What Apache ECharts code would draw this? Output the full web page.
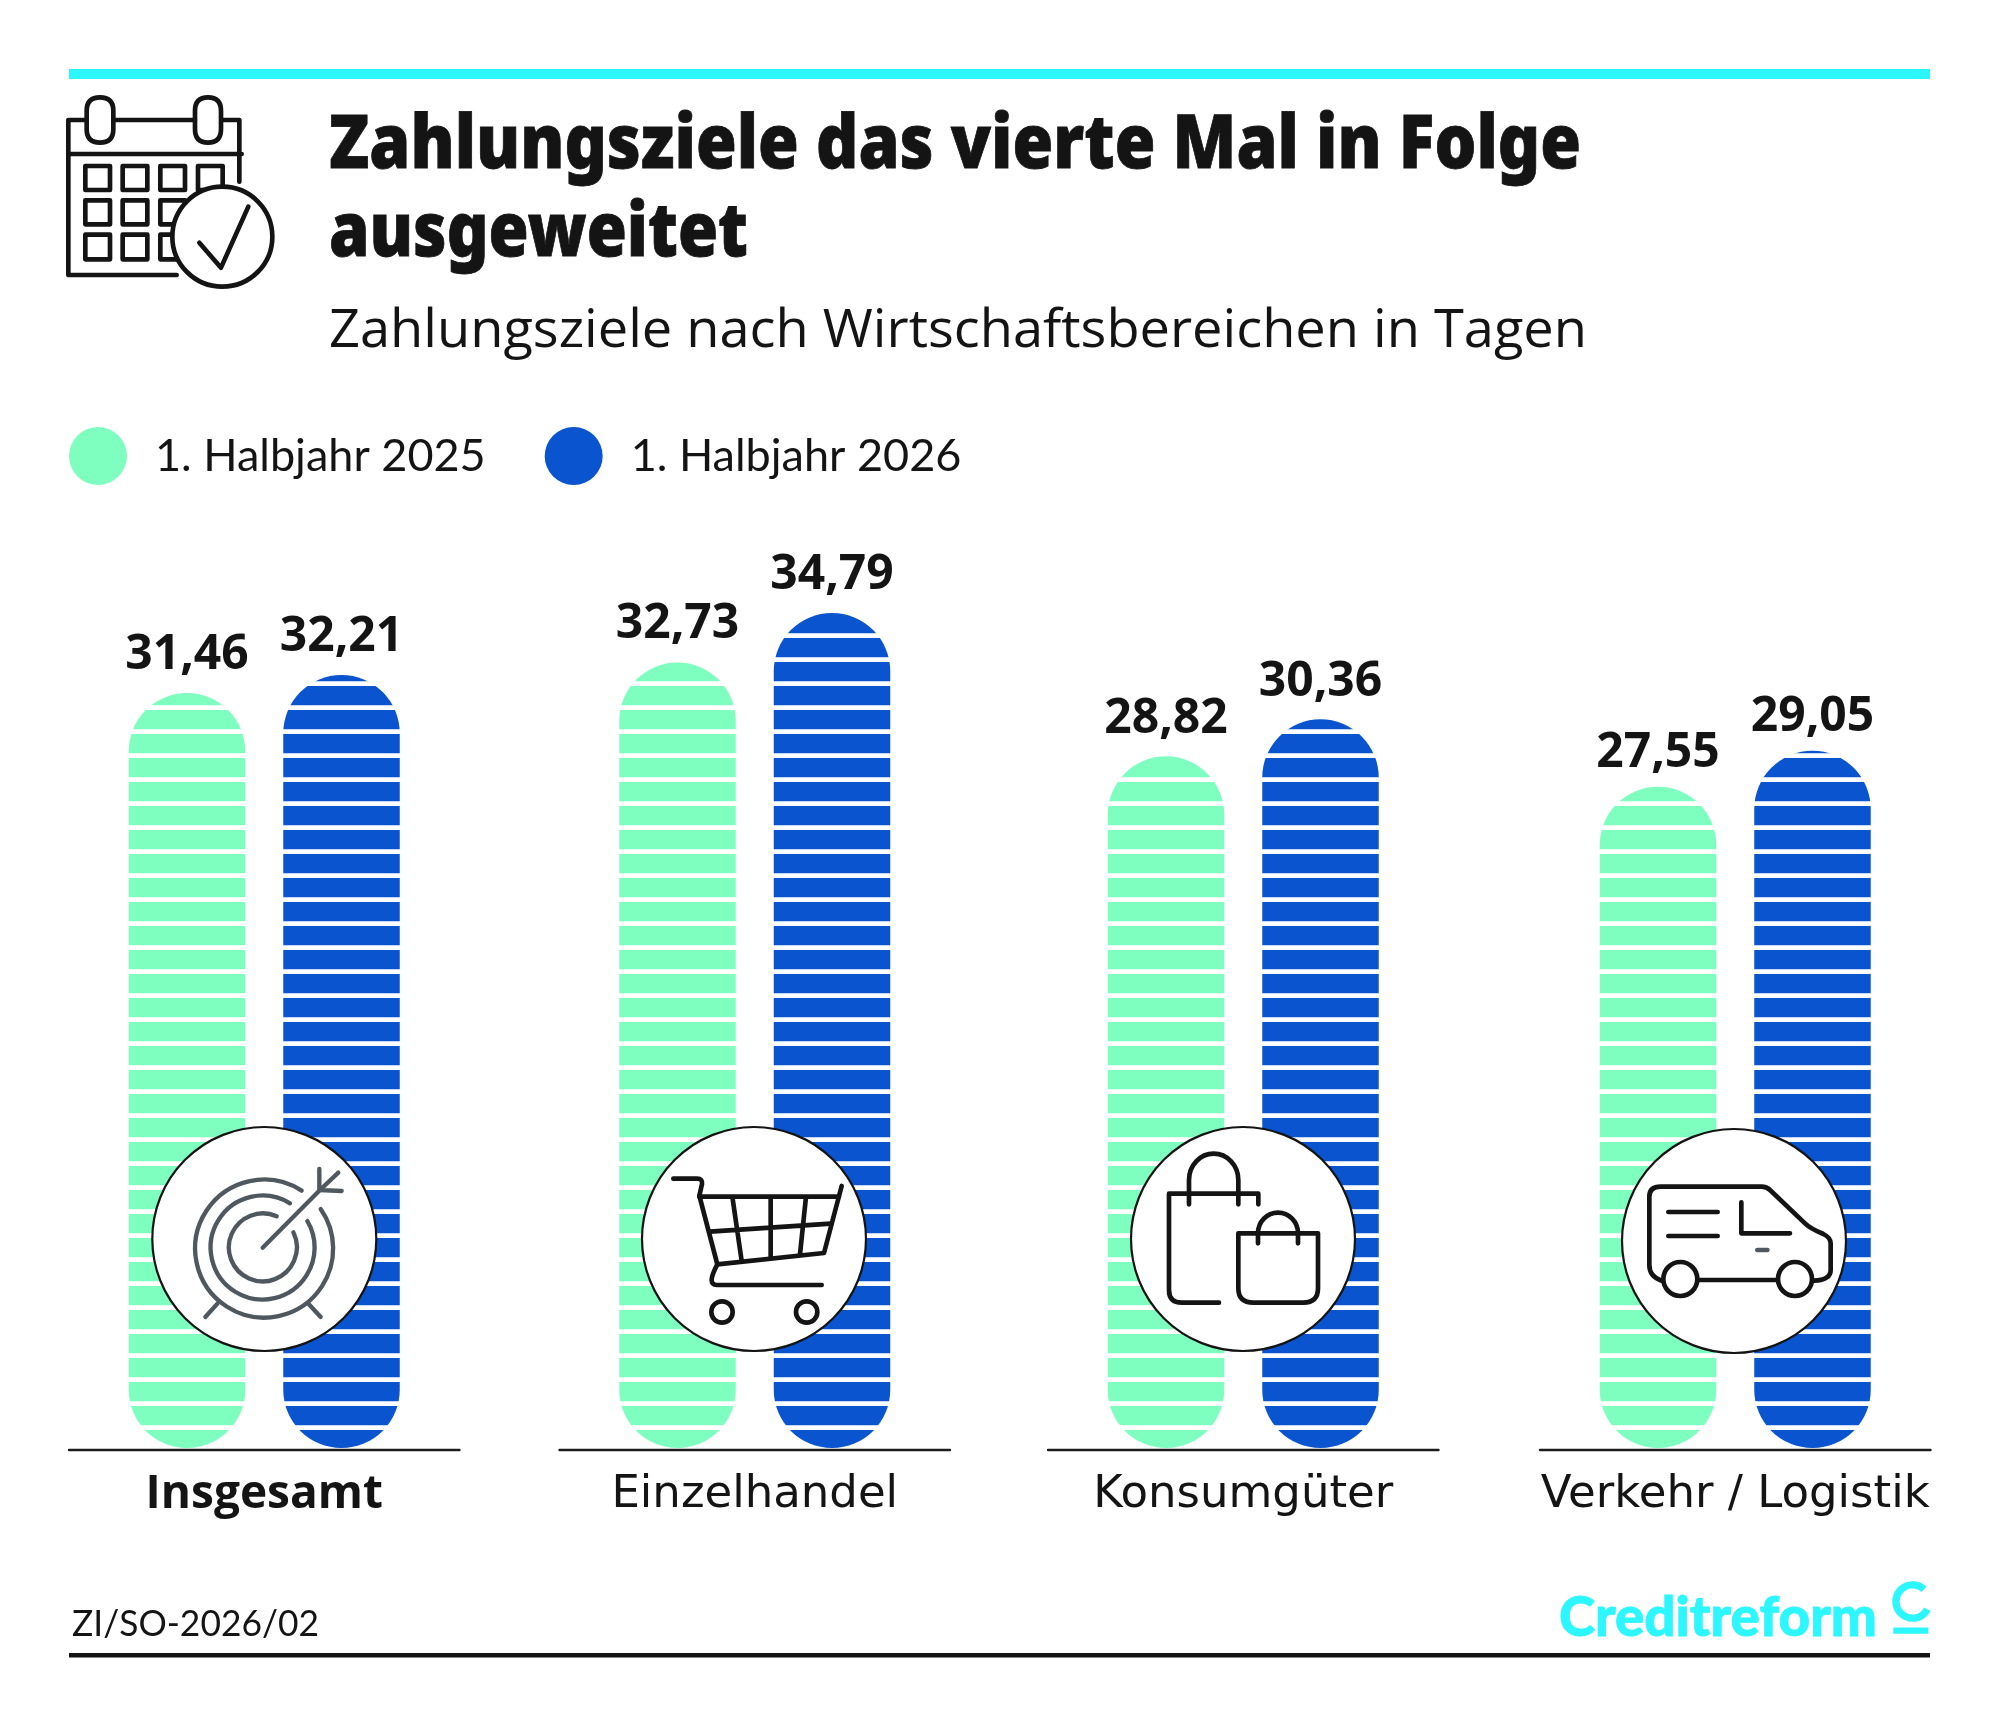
<!DOCTYPE html>
<html lang="de">
<head>
<meta charset="utf-8">
<title>Zahlungsziele</title>
<style>html,body{margin:0;padding:0;background:#fff}#c{width:1999px;height:1723px}</style>
<script src="https://cdn.jsdelivr.net/npm/echarts@6/dist/echarts.min.js"></script>
</head>
<body>
<div id="c"></div>
<script>
const categories = ['Insgesamt', 'Einzelhandel', 'Konsumgüter', 'Verkehr / Logistik'];
const values2025 = [31.46, 32.73, 28.82, 27.55];
const values2026 = [32.21, 34.79, 30.36, 29.05];
const seriesNames = ['1. Halbjahr 2025', '1. Halbjahr 2026'];
const titleLines = ['Zahlungsziele das vierte Mal in Folge', 'ausgeweitet'];
const subtitle = 'Zahlungsziele nach Wirtschaftsbereichen in Tagen';
const footnote = 'ZI/SO-2026/02';
const brand = 'Creditreform';

const MINT = '#7fffbf', BLUE = '#0a54cf', CYAN = '#2cf6ff', INK = '#141414', GREY = '#50585f';
const panelLeft = [69, 559.5, 1048, 1540];
const labelDistance = [14, 14, 13, 9];
const PANEL_W = 390.5, BAR_W = 116.5, BAR_GAP = 38;

const chart = echarts.init(document.getElementById('c'), null, {width: 1999, height: 1723, renderer: 'canvas'});
const ctx = document.createElement('canvas').getContext('2d');

function text(str, x, base, family, weight, size, targetW, color, strokeW) {
  ctx.font = weight + ' ' + size + 'px "' + family + '"';
  const w = ctx.measureText(str).width;
  const sx = targetW ? targetW / w : 1;
  const style = {text: str, fontFamily: family, fontWeight: weight, fontSize: size, fill: color || INK,
      align: 'left', verticalAlign: 'middle'};
  if (strokeW) { style.stroke = color || INK; style.lineWidth = strokeW; }
  return {type: 'text', x: x, y: base - size * 0.28, scaleX: sx, z: 50, silent: true, style: style};
}
let shapeCount = 0;
function icon(x, y, paths) {
  return {type: 'group', x: x, y: y, scaleX: 1 / 3, scaleY: 1 / 3, children: paths.map(p => {
    if (p.c) return {type: 'circle', z: p.z || 60, silent: true, shape: {cx: p.c[0], cy: p.c[1], r: p.c[2]},
      style: {fill: p.fill || '#fff', stroke: p.s || INK, lineWidth: p.w || 14}};
    const shapeName = 'iconPath' + (shapeCount++);
    echarts.graphic.registerShape(shapeName, echarts.graphic.extendPath(p.d));
    return {type: shapeName, z: p.z || 60, silent: true,
      style: {fill: 'none', stroke: p.s || INK, lineWidth: p.w || 14, lineCap: p.cap || 'round', lineJoin: 'round'}};
  })};
}
function disc(cx, cy) {
  return {type: 'circle', z: 40, silent: true, shape: {cx: cx, cy: cy, r: 112}, style: {fill: '#fff', stroke: INK, lineWidth: 2.2}};
}
function rule(x, y, w, h, color) {
  return {type: 'rect', z: 5, silent: true, shape: {x: x, y: y, width: w, height: h}, style: {fill: color}};
}

const targetIcon = icon(150, 1125, [
  {d: 'M455 197 A207 207 0 1 0 512 252', s: GREY, w: 13},
  {d: 'M420 235 A156 156 0 1 0 472 288', s: GREY, w: 13},
  {d: 'M380 274 A102 102 0 1 0 430 322', s: GREY, w: 13},
  {d: 'M338 368 L510 195', s: GREY, w: 13},
  {d: 'M508 132 L508 195 L575 198 M565 143 L510 195', s: GREY, w: 13},
  {d: 'M203 535 L166 576 M474 535 L512 576', s: GREY, w: 13}
]);
const cartIcon = icon(640, 1125, [
  {d: 'M100 161 L172 161 Q188 161 186 177 L178 212 L232 418 L552 384 L605 183'},
  {d: 'M178 215 L597 215 M277 215 L305 408 M392 215 L392 398 M498 215 L480 388 M210 320 L572 296'},
  {d: 'M232 418 Q215 450 215 465 Q215 480 230 480 L545 480'},
  {c: [246, 561, 32]}, {c: [500, 561, 32]}
]);
const bagsIcon = icon(1130, 1125, [
  {d: 'M267 533 L155 533 Q117 533 117 495 L117 206 L385 206 L385 238'},
  {d: 'M177 238 L177 165 A74 79 0 0 1 325 165 L325 238'},
  {d: 'M325 325 L564 325 L564 490 Q564 533 520 533 L370 533 Q325 533 325 490 Z'},
  {d: 'M384 355 L384 325 A60 62 0 0 1 504 325 L504 355'}
]);
const vanIcon = icon(1620, 1125, [
  {d: 'M125 467 Q88 455 88 420 L88 215 Q88 185 122 185 L425 185 Q440 185 450 195 L555 295 Q570 310 610 327 Q632 338 632 355 L632 435 Q632 465 582 467'},
  {d: 'M236 465 L472 465 M145 261 L293 261 M145 333 L293 333 M364 232 L364 325 L510 325'},
  {d: 'M412 375 L442 375', s: GREY},
  {c: [181, 462, 51]}, {c: [525, 462, 51]}
]);
const calendarIcon = icon(60, 90, [
  {d: 'M75 90 L25 90 L25 555 L350 555'},
  {d: 'M160 90 L405 90 M485 90 L538 90 L538 275 M25 192 L545 192'},
  {d: 'M120 22 Q160 22 160 62 L160 118 Q160 158 120 158 Q80 158 80 118 L80 62 Q80 22 120 22 Z'},
  {d: 'M444 22 Q483 22 483 62 L483 118 Q483 158 444 158 Q405 158 405 118 L405 62 Q405 22 444 22 Z'},
  {d: 'M76 228 H150 V300 H76 Z M188 228 H262 V300 H188 Z M301 228 H375 V300 H301 Z M414 228 H488 V300 H414 Z'},
  {d: 'M76 331 H150 V403 H76 Z M188 331 H262 V403 H188 Z M301 331 H375 V403 H301 Z'},
  {d: 'M76 434 H150 V508 H76 Z M188 434 H262 V508 H188 Z M301 434 H375 V508 H301 Z'},
  {c: [487, 440, 150], z: 70},
  {d: 'M418 458 L483 533 L565 350', z: 71}
]);
const logoMark = icon(1550, 1580, [
  {d: 'M1122 28 A50 50 0 1 0 1132 88', s: CYAN, w: 22, cap: 'butt'},
  {d: 'M1030 152 L1135 152', s: CYAN, w: 19, cap: 'butt'}
]);

function drawStripes(params, api) {
  const v = api.value(1);
  const side = params.dataIndex === 0 ? -1 : 1;
  const c = api.coord([0, 0]);
  const cx = c[0] + side * (BAR_W + BAR_GAP) / 2;
  const children = [];
  for (let k = 0; k + 0.95 < v; k++) {
    const top = api.coord([0, k + 0.95])[1];
    const bottom = api.coord([0, k + 0.75])[1];
    children.push({type: 'rect', shape: {x: cx - BAR_W / 2 - 1, y: top, width: BAR_W + 2, height: bottom - top}, style: {fill: '#fff'}});
  }
  return {type: 'group', children: children};
}

const grids = [], xAxes = [], yAxes = [], series = [];
categories.forEach((name, i) => {
  grids.push({left: panelLeft[i], width: PANEL_W, top: 488, height: 960, containLabel: false});
  xAxes.push({type: 'category', gridIndex: i, data: [name], position: 'bottom', offset: 1.5,
    axisLine: {show: true, onZero: false, lineStyle: {color: '#1c1c1c', width: 2.4}}, axisTick: {show: false},
    axisLabel: {margin: i === 0 ? 22 : 23, fontFamily: i === 0 ? 'Open Sans' : 'DejaVu Sans', fontSize: i === 0 ? 46 : 45, color: INK,
      fontWeight: i === 0 ? 700 : 400, hideOverlap: false, interval: 0}});
  yAxes.push({type: 'value', gridIndex: i, min: 0, max: 40, interval: 10, show: false, splitLine: {show: false}});
  [values2025, values2026].forEach((vals, s) => {
    series.push({type: 'bar', name: seriesNames[s], xAxisIndex: i, yAxisIndex: i, data: [vals[i]],
      barWidth: BAR_W, barGap: (BAR_GAP / BAR_W * 100) + '%',
      itemStyle: {color: s === 0 ? MINT : BLUE, borderRadius: BAR_W / 2},
      label: {show: true, position: 'top', distance: labelDistance[i], fontFamily: 'Open Sans', fontWeight: 700, fontSize: 48, color: INK,
        formatter: p => p.value.toFixed(2).replace('.', ',')},
      z: 2});
  });
  series.push({type: 'custom', name: 'Streifen ' + name, xAxisIndex: i, yAxisIndex: i, coordinateSystem: 'cartesian2d', silent: true, z: 3,
    encode: {x: 0, y: 1}, renderItem: drawStripes, data: [[0, values2025[i]], [0, values2026[i]]]});
});

chart.setOption({
  animation: false,
  backgroundColor: '#fff',
  legend: {left: 69, top: 427, padding: 0, itemWidth: 58, itemHeight: 58, itemGap: 59, icon: 'circle', selectedMode: false,
    data: seriesNames,
    textStyle: {fontFamily: 'Lato', fontSize: 45, color: INK, width: 332, padding: [0, 0, 0, 23]}},
  grid: grids, xAxis: xAxes, yAxis: yAxes, series: series,
  graphic: {elements: [
    rule(69, 69, 1861, 10, CYAN),
    rule(69, 1653, 1861, 4.5, INK),
    text(titleLines[0], 329, 168, 'Noto Sans', 900, 74, 1252, INK, 0.8),
    text(titleLines[1], 329, 256, 'Noto Sans', 900, 74, 419, INK, 0.8),
    text(subtitle, 329, 347, 'Open Sans', 400, 53, 1258),
    text(footnote, 72, 1634.5, 'Lato', 400, 37, 247),
    text(brand, 1559, 1634, 'Lato', 900, 56, 318, CYAN, 0.8),
    disc(264.3, 1239), disc(754, 1239), disc(1243, 1239), disc(1734, 1241),
    targetIcon, cartIcon, bagsIcon, vanIcon, calendarIcon, logoMark
  ]}
});
</script>
</body>
</html>
